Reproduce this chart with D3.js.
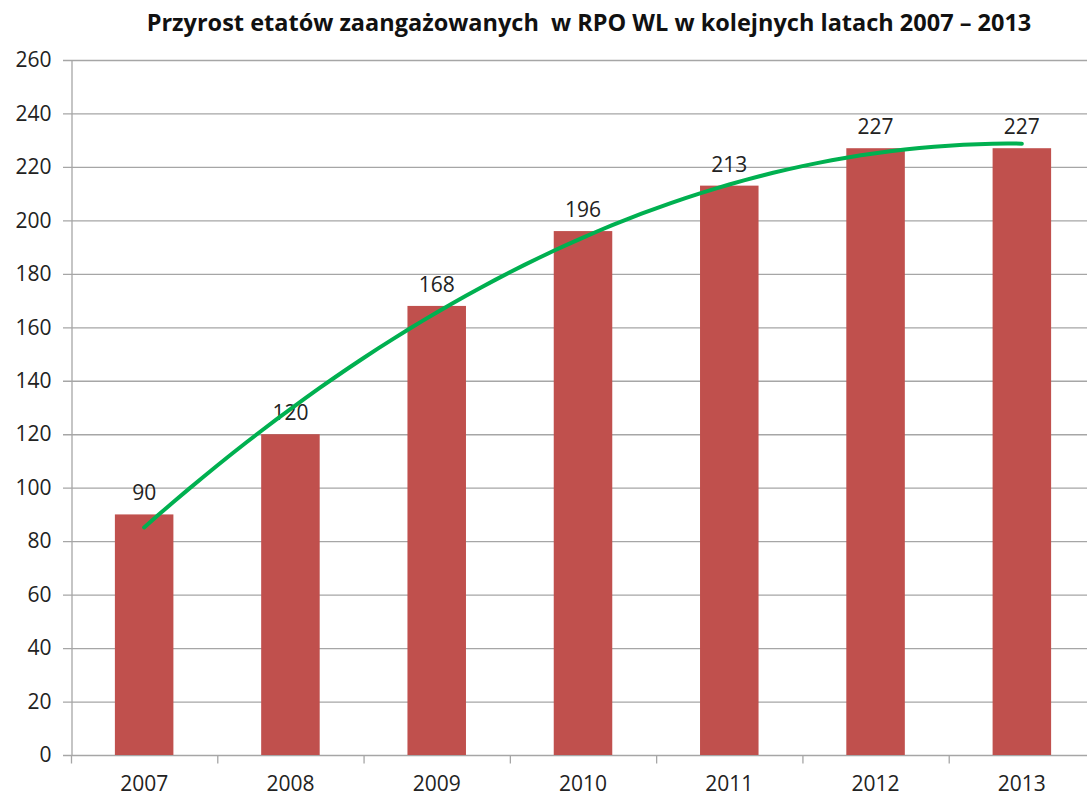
<!DOCTYPE html>
<html lang="pl">
<head>
<meta charset="UTF-8">
<title>Przyrost etatów</title>
<script src="https://cdnjs.cloudflare.com/ajax/libs/d3/7.9.0/d3.min.js"></script>
<style>
  body { margin: 0; background: #fff; }
  svg text { font-family: "Open Sans", "Liberation Sans", sans-serif; white-space: pre; }
</style>
</head>
<body>
<svg width="1087" height="796"></svg>
<script>
// data
const years = ["2007", "2008", "2009", "2010", "2011", "2012", "2013"];
const values = [90, 120, 168, 196, 213, 227, 227];
const yTicks = [0, 20, 40, 60, 80, 100, 120, 140, 160, 180, 200, 220, 240, 260];
const title = "Przyrost etatów zaangażowanych  w RPO WL w kolejnych latach 2007 – 2013";

let svg = d3.select("svg");

let plotLeft = 71, plotRight = 1095, plotTop = 60, plotBottom = 755;

let x = d3.scaleBand()
    .domain(years)
    .range([plotLeft, plotRight])
    .paddingInner(0.6)
    .paddingOuter(0.3);

let y = d3.scaleLinear()
    .domain([0, 260])
    .range([plotBottom, plotTop]);

// gridlines
svg.append("g")
    .selectAll("line")
    .data(yTicks)
    .join("line")
    .attr("x1", plotLeft - 8)
    .attr("x2", 1087)
    .attr("y1", d => y(d) + 0.5)
    .attr("y2", d => y(d) + 0.5)
    .attr("stroke", "#a6a6a6")
    .attr("stroke-width", 1.3);

// y axis
let yAxis = svg.append("g")
    .attr("transform", `translate(${plotLeft + 0.5},0)`)
    .call(d3.axisLeft(y).tickValues(yTicks).tickSize(0).tickPadding(20));
yAxis.select(".domain").attr("stroke", "#a6a6a6").attr("stroke-width", 1.3);
yAxis.selectAll("text").attr("font-size", "21px").attr("fill", "#222");

// x axis: ticks between categories
let step = x.step();
let xAxis = svg.append("g")
    .attr("transform", `translate(0,${plotBottom + 0.5})`);
xAxis.selectAll("line")
    .data(d3.range(years.length + 1))
    .join("line")
    .attr("x1", i => plotLeft + 0.5 + i * step)
    .attr("x2", i => plotLeft + 0.5 + i * step)
    .attr("y1", 0)
    .attr("y2", 8)
    .attr("stroke", "#a6a6a6")
    .attr("stroke-width", 1.3);
xAxis.selectAll("text")
    .data(years)
    .join("text")
    .attr("x", d => x(d) + x.bandwidth() / 2)
    .attr("y", 35)
    .attr("text-anchor", "middle")
    .attr("font-size", "21px")
    .attr("fill", "#222")
    .text(d => d);

// bars
svg.append("g")
    .selectAll("rect")
    .data(years)
    .join("rect")
    .attr("x", d => x(d))
    .attr("y", (d, i) => y(values[i]))
    .attr("width", x.bandwidth())
    .attr("height", (d, i) => y(0) - y(values[i]))
    .attr("fill", "#c0504d");

// value labels
svg.append("g")
    .selectAll("text")
    .data(years)
    .join("text")
    .attr("x", d => x(d) + x.bandwidth() / 2)
    .attr("y", (d, i) => y(values[i]) - 14)
    .attr("text-anchor", "middle")
    .attr("font-size", "21px")
    .attr("fill", "#222")
    .text((d, i) => values[i]);

// polynomial (order 2) trendline fitted to the values, like Excel
let n = values.length;
let ts = d3.range(n);
let tMean = d3.mean(ts);
let yMean = d3.mean(values);
let u = ts.map(t => t - tMean);
let su2 = d3.mean(u, d => d * d);
let q = u.map(d => d * d - su2);
let b = d3.sum(u, (d, i) => d * values[i]) / d3.sum(u, d => d * d);
let c = d3.sum(q, (d, i) => d * values[i]) / d3.sum(q, d => d * d);
let fit = t => yMean + b * (t - tMean) + c * ((t - tMean) ** 2 - su2);

let idx = d3.scaleLinear().domain([0, n - 1])
    .range([x(years[0]) + x.bandwidth() / 2, x(years[n - 1]) + x.bandwidth() / 2]);
let trendPts = d3.range(0, n - 1 + 0.001, 0.1);
svg.append("path")
    .datum(trendPts)
    .attr("d", d3.line().x(t => idx(t)).y(t => y(fit(t))))
    .attr("fill", "none")
    .attr("stroke", "#00b050")
    .attr("stroke-width", 4)
    .attr("stroke-linecap", "round");

// title
svg.append("text")
    .attr("x", 589)
    .attr("y", 31)
    .attr("text-anchor", "middle")
    .attr("font-size", "23.5px")
    .attr("font-weight", "bold")
    .attr("fill", "#111")
    .text(title);
</script>
</body>
</html>
